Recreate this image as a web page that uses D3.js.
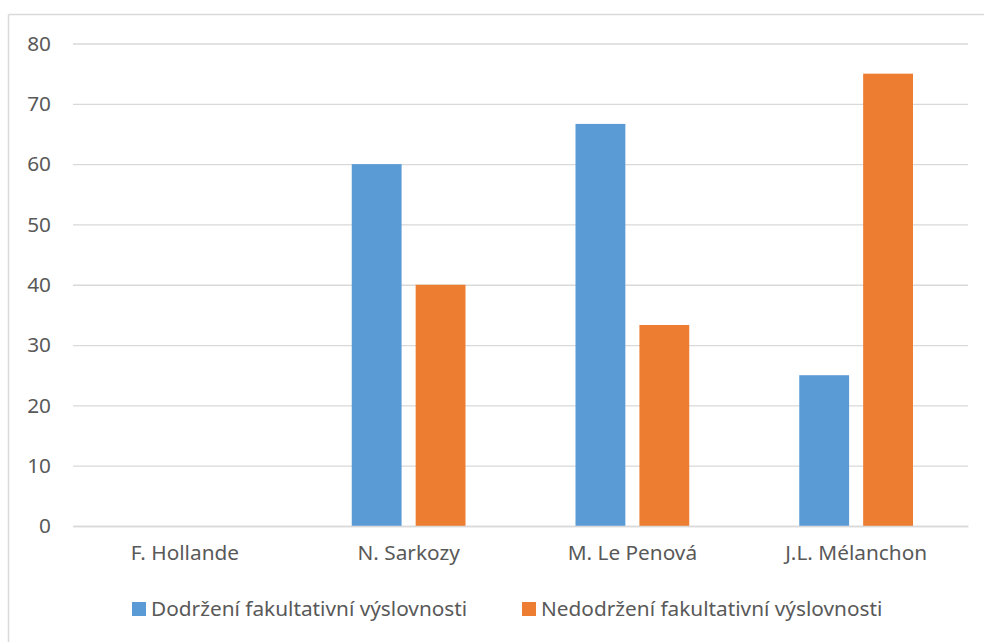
<!DOCTYPE html>
<html>
<head>
<meta charset="utf-8">
<script src="https://cdn.jsdelivr.net/npm/d3@7/dist/d3.min.js"></script>
<style>
  html, body { margin: 0; padding: 0; background: #fff; }
  svg { display: block; }
  text { font-family: "Noto Sans", "Open Sans", sans-serif; fill: #595959; }
</style>
</head>
<body>
<svg id="chart" width="984" height="642"></svg>
<script>
// Candidates on the x axis
const categories = ["F. Hollande", "N. Sarkozy", "M. Le Penová", "J.L. Mélanchon"];
// Series names (legend order)
const seriesNames = ["Dodržení fakultativní výslovnosti", "Nedodržení fakultativní výslovnosti"];
// Percent values per series, aligned with categories
const dodrzeni = [0, 60, 66.67, 25];
const nedodrzeni = [0, 40, 33.33, 75];
// Y axis ticks
const yTicks = [0, 10, 20, 30, 40, 50, 60, 70, 80];

const colors = ["#5B9BD5", "#ED7D31"];
const seriesValues = [dodrzeni, nedodrzeni];
const FONT = 20.8;

const svg = d3.select("#chart");
const W = 984, H = 642;

// Outer chart frame (left and top edges are visible)
svg.append("line").attr("x1", 8.5).attr("x2", 8.5).attr("y1", 14.5).attr("y2", H)
  .attr("stroke", "#D9D9D9").attr("stroke-width", 1.5);
svg.append("line").attr("x1", 8.5).attr("x2", W).attr("y1", 14.5).attr("y2", 14.5)
  .attr("stroke", "#D9D9D9").attr("stroke-width", 1.5);

const plot = { left: 73, right: 968, top: 43.5, bottom: 526 };

const x0 = d3.scaleBand().domain(categories).range([plot.left, plot.right]).paddingInner(0).paddingOuter(0);
const y = d3.scaleLinear().domain([0, 80]).range([plot.bottom, plot.top]);

// Inner band for the two bars in each category
const groupMargin = 55;
const x1 = d3.scaleBand().domain(seriesNames)
  .range([groupMargin, x0.bandwidth() - groupMargin])
  .paddingInner(0.22).paddingOuter(0);

// Gridlines
const grid = d3.axisLeft(y).tickValues(yTicks).tickSize(-(plot.right - plot.left)).tickFormat("");
svg.append("g").attr("transform", `translate(${plot.left},0)`).call(grid)
  .call(g => g.select(".domain").remove())
  .call(g => g.selectAll("line").attr("stroke", "#D9D9D9").attr("stroke-width", 1.3));

// Y tick labels
const yAxis = d3.axisLeft(y).tickValues(yTicks).tickSize(0).tickPadding(22);
svg.append("g").attr("transform", `translate(${plot.left},0)`).call(yAxis)
  .call(g => g.select(".domain").remove())
  .call(g => g.selectAll("text").attr("font-size", FONT).style("fill", "#595959")
    .style("font-family", '"Noto Sans", sans-serif'));

// Bars
const rows = categories.map((c, i) => ({ cat: c, vals: seriesNames.map((s, k) => ({ s, k, v: seriesValues[k][i] })) }));
const groups = svg.append("g").selectAll("g").data(rows).join("g")
  .attr("transform", d => `translate(${x0(d.cat)},0)`);
groups.selectAll("rect").data(d => d.vals).join("rect")
  .attr("x", d => x1(d.s))
  .attr("width", x1.bandwidth())
  .attr("y", d => y(d.v))
  .attr("height", d => y(0) - y(d.v))
  .attr("fill", d => colors[d.k]);

// X category labels
const xAxis = d3.axisBottom(x0).tickSize(0).tickPadding(19);
svg.append("g").attr("transform", `translate(0,${plot.bottom})`).call(xAxis)
  .call(g => g.select(".domain").attr("stroke", "#D9D9D9").attr("stroke-width", 1.3))
  .call(g => g.selectAll("text").attr("font-size", FONT).style("fill", "#595959")
    .style("font-family", '"Noto Sans", sans-serif'));

// Legend
const legendItems = [
  { name: seriesNames[0], color: colors[0], x: 132 },
  { name: seriesNames[1], color: colors[1], x: 522 }
];
const legend = svg.append("g").selectAll("g").data(legendItems).join("g")
  .attr("transform", d => `translate(${d.x},602)`);
legend.append("rect").attr("width", 14).attr("height", 14).attr("fill", d => d.color);
legend.append("text").attr("x", 19).attr("y", 7).attr("dy", "0.35em")
  .attr("font-size", FONT).text(d => d.name);
</script>
</body>
</html>
